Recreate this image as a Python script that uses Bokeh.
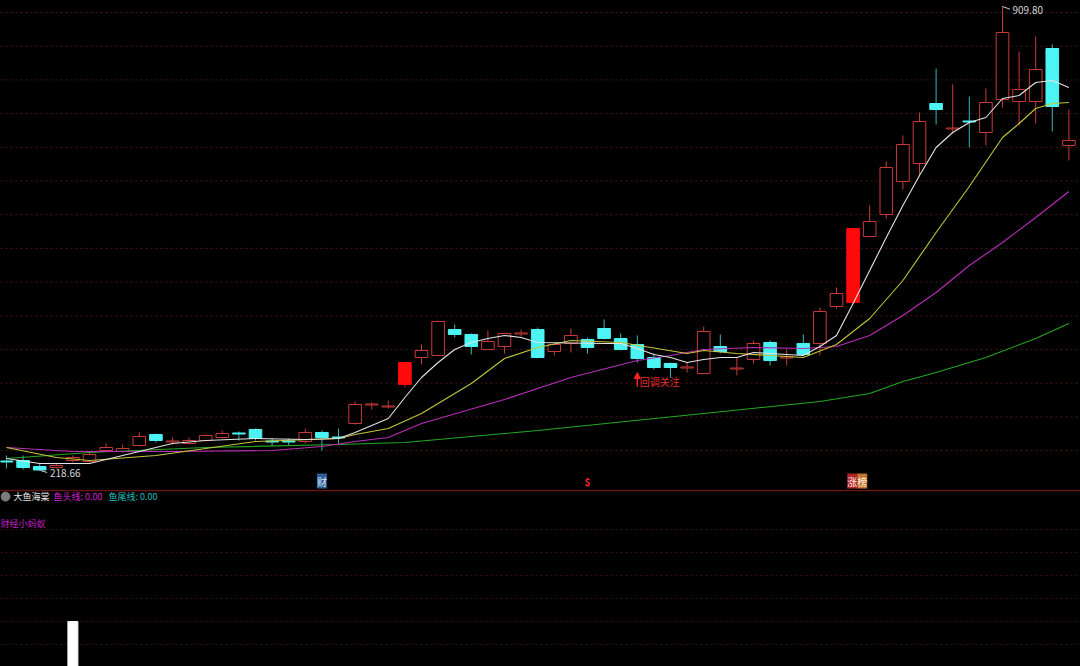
from bokeh.plotting import figure
from bokeh.models import Range1d, ColumnDataSource, Label, Arrow, NormalHead, Span
from bokeh.layouts import column
from bokeh.embed import file_html
from bokeh.resources import INLINE

# ---------------- data ----------------
opens = [232.83, 233.57, 224.63, 223.14, 233.57, 232.08, 248.46, 246.98, 255.91, 272.30,
         261.13, 258.89, 263.36, 267.83, 274.53, 279.74, 262.61, 262.61, 261.87, 275.28,
         268.57, 288.68, 316.24, 313.26, 346.77, 386.99, 389.97, 428.69, 421.25, 398.90,
         403.37, 421.99, 428.69, 395.93, 407.84, 413.80, 430.18, 415.29, 406.35, 386.99,
         378.05, 371.35, 363.16, 403.37, 369.86, 384.01, 409.33, 386.24, 407.84, 407.84,
         462.95, 468.91, 567.22, 599.99, 649.14, 675.95, 765.32, 727.34, 739.26, 722.13,
         771.28, 768.30, 768.30, 847.24, 702.76]
highs = [241.02, 241.02, 229.10, 229.10, 241.02, 245.49, 258.89, 257.40, 275.28, 273.79,
         267.83, 267.83, 272.30, 278.25, 276.77, 281.23, 266.34, 266.34, 281.23, 278.25,
         281.23, 321.45, 319.96, 322.94, 379.54, 406.35, 442.10, 436.14, 422.74, 427.21,
         422.74, 428.69, 431.67, 406.35, 430.18, 416.78, 443.59, 422.74, 419.76, 392.95,
         379.54, 379.54, 433.16, 421.25, 386.99, 412.31, 412.31, 398.90, 421.25, 461.46,
         491.25, 579.13, 613.39, 678.93, 717.66, 751.92, 817.45, 793.62, 775.75, 787.66,
         909.80, 842.78, 865.12, 853.20, 756.38]
lows = [221.65, 220.16, 218.66, 221.65, 230.59, 230.59, 246.98, 245.49, 254.42, 260.38,
        257.40, 257.40, 261.87, 266.34, 263.36, 263.36, 254.42, 255.91, 258.89, 248.46,
        258.89, 287.19, 309.53, 311.02, 342.30, 376.56, 389.97, 416.78, 391.46, 398.90,
        392.95, 418.27, 385.50, 389.97, 394.44, 392.95, 413.80, 397.41, 379.54, 369.11,
        357.20, 364.65, 363.16, 392.95, 360.18, 378.05, 375.07, 375.07, 389.97, 389.97,
        459.97, 465.93, 565.73, 594.03, 637.22, 658.08, 734.04, 720.64, 699.78, 702.76,
        759.36, 732.55, 735.53, 723.62, 680.42]
closes = [231.34, 223.14, 219.42, 226.12, 238.04, 242.51, 252.93, 251.44, 269.32, 263.36,
          262.61, 263.36, 270.81, 273.79, 273.04, 266.34, 261.13, 261.13, 275.28, 267.83,
          267.08, 316.98, 317.73, 314.75, 379.54, 397.41, 440.61, 421.25, 403.37, 410.82,
          422.74, 423.48, 386.99, 406.35, 419.76, 401.88, 415.29, 398.90, 385.50, 372.09,
          372.09, 372.84, 425.72, 395.93, 371.35, 407.84, 382.52, 387.73, 391.46, 455.51,
          482.32, 579.13, 589.56, 669.99, 704.25, 738.51, 756.38, 728.83, 737.77, 766.81,
          871.08, 786.17, 815.96, 760.85, 710.21]
solid_red_days = [24, 51]

ma5_idx = [0, 2, 5, 8, 10, 12, 15, 18, 20, 21, 22, 23, 24, 25, 26, 27, 28, 29, 30, 31, 32,
           36, 37, 38, 39, 40, 41, 42, 43, 44, 45, 46, 48, 49, 50, 51, 52, 53, 54, 55, 56,
           57, 58, 59, 60, 61, 62, 63, 64]
ma5_val = [236.55, 229.10, 229.10, 246.98, 258.89, 263.36, 266.34, 264.85, 266.34, 275.28,
           285.70, 296.13, 327.41, 357.20, 379.54, 398.90, 409.33, 415.29, 419.76, 416.78,
           409.33, 407.84, 407.84, 400.39, 391.46, 386.99, 379.54, 384.01, 386.99, 386.99,
           394.44, 392.95, 389.97, 403.37, 419.76, 467.42, 516.57, 565.73, 613.39, 658.08,
           699.78, 722.13, 737.02, 744.47, 772.77, 777.24, 796.60, 799.58, 789.15]

ma10_idx = [0, 3, 5, 9, 12, 15, 20, 21, 23, 25, 28, 30, 32, 34, 37, 41, 42, 44, 48, 50,
            52, 54, 56, 58, 60, 61, 62, 63, 64]
ma10_val = [252.93, 238.04, 233.57, 241.02, 251.44, 261.87, 266.34, 272.30, 281.23, 303.58,
            348.26, 385.50, 401.88, 412.31, 409.33, 392.95, 397.41, 392.95, 386.99, 406.35,
            445.08, 501.68, 573.18, 641.69, 714.68, 735.53, 757.87, 765.32, 766.81]

ma20_idx = [0, 4, 10, 16, 19, 21, 23, 25, 30, 34, 38, 40, 42, 45, 48, 50, 52, 54, 56, 58,
            60, 62, 64]
ma20_val = [252.93, 246.98, 246.98, 248.46, 254.42, 261.87, 267.83, 288.68, 324.43, 357.20,
            382.52, 389.97, 398.90, 401.88, 400.39, 403.37, 419.76, 449.55, 483.81, 524.02,
            558.28, 595.52, 634.25]

ma60_idx = [0, 5, 12, 20, 24, 32, 42, 49, 52, 54, 56, 59, 62, 64]
ma60_val = [236.55, 245.49, 252.93, 257.40, 260.38, 278.25, 303.58, 321.45, 333.37, 351.24,
            364.65, 386.99, 415.29, 437.63]

grid_levels = [900.87, 850.67, 800.47, 750.27, 700.07, 649.87, 599.67, 549.47, 499.27,
               449.07, 398.87, 348.67, 298.47, 248.27]

sub_title = "大鱼海棠"
sub_head = "鱼头线: 0.00"
sub_tail = "鱼尾线: 0.00"
sub_author = "财经小蚂蚁"
signal_days = [19, 35, 51]
pullback_day = 38
pullback_text = "回调关注"
sub_bar_idx = [4]
sub_bar_val = [25.4]
sub_grid_levels = [77.4, 64.4, 51.4, 38.4, 25.4, 12.4]

FONT = "Noto Sans CJK SC"
UP = "#c83a3a"
DOWN = "#4cf4f4"
DOWN_WICK = "#38b8b8"

# ---------------- main panel ----------------
n = len(opens)
idx = list(range(n))
tops = [max(o, c) for o, c in zip(opens, closes)]
bots = [min(o, c) for o, c in zip(opens, closes)]
kind = []
for i in idx:
    if i in solid_red_days:
        kind.append("solid")
    elif closes[i] >= opens[i]:
        kind.append("up")
    else:
        kind.append("down")


def sub(k):
    ids = [i for i in idx if kind[i] == k]
    return ColumnDataSource(dict(
        x=ids,
        top=[tops[i] for i in ids], bottom=[bots[i] for i in ids],
        high=[highs[i] for i in ids], low=[lows[i] for i in ids]))


p = figure(width=1080, height=489, x_range=Range1d(-0.3614, 64.699),
           y_range=Range1d(190.37, 918.74), output_backend="svg",
           toolbar_location=None, x_axis_location=None, y_axis_location=None,
           background_fill_color="#000000", border_fill_color="#000000",
           min_border=0, outline_line_color=None)
p.grid.visible = False

for lv in grid_levels:
    p.add_layout(Span(location=lv, dimension="width", line_color="#4a1818",
                      line_dash="2 3", line_width=1, level="underlay"))

src_up, src_down, src_solid = sub("up"), sub("down"), sub("solid")
p.segment(x0="x", y0="high", x1="x", y1="low", source=src_up, line_color=UP, line_width=1)
p.segment(x0="x", y0="high", x1="x", y1="low", source=src_solid, line_color="#ff1010", line_width=1)
p.segment(x0="x", y0="high", x1="x", y1="low", source=src_down, line_color=DOWN_WICK, line_width=1)
p.vbar(x="x", top="top", bottom="bottom", width=0.76, source=src_up,
       fill_color="#000000", line_color=UP, line_width=1)
p.vbar(x="x", top="top", bottom="bottom", width=0.76, source=src_solid,
       fill_color="#ff0a0a", line_color="#ff0a0a", line_width=1)
p.vbar(x="x", top="top", bottom="bottom", width=0.76, source=src_down,
       fill_color=DOWN, line_color=DOWN, line_width=1)

p.line(ma60_idx, ma60_val, line_color="#22a822", line_width=1.1)
p.line(ma20_idx, ma20_val, line_color="#b82eb8", line_width=1.1)
p.line(ma10_idx, ma10_val, line_color="#c4c43a", line_width=1.1)
p.line(ma5_idx, ma5_val, line_color="#e4e4e4", line_width=1.1)

# max / min annotations
hi_i = max(idx, key=lambda i: highs[i])
lo_i = min(idx, key=lambda i: lows[i])
p.segment(x0=[hi_i], y0=[highs[hi_i]], x1=[hi_i + 0.45], y1=[highs[hi_i] - 4.0],
          line_color="#cfcfcf", line_width=1)
p.add_layout(Label(x=hi_i + 0.6, y=highs[hi_i] - 4.5, text=f"{highs[hi_i]:.2f}",
                   text_color="#d6d6d6", text_font=FONT, text_font_size="10px",
                   text_baseline="middle"))
p.segment(x0=[lo_i + 0.05], y0=[lows[lo_i]], x1=[lo_i + 0.45], y1=[lows[lo_i] - 3.0],
          line_color="#cfcfcf", line_width=1)
p.add_layout(Label(x=lo_i + 0.62, y=lows[lo_i] - 3.0, text=f"{lows[lo_i]:.2f}",
                   text_color="#d6d6d6", text_font=FONT, text_font_size="10px",
                   text_baseline="middle"))

# pullback marker
p.add_layout(Arrow(end=NormalHead(size=6, fill_color="#ff2020", line_color="#ff2020"),
                   x_start=pullback_day, y_start=lows[pullback_day] - 36,
                   x_end=pullback_day, y_end=lows[pullback_day] - 15,
                   line_color="#ff2020", line_width=1.5))
p.add_layout(Label(x=pullback_day + 0.15, y=lows[pullback_day] - 28, text=pullback_text,
                   text_color="#e82a2a", text_font=FONT, text_font_size="10px",
                   text_baseline="middle"))

# bottom signal labels
yb = 203.0
p.add_layout(Label(x=signal_days[0], y=yb, text="财", text_color="#dce9ff",
                   background_fill_color="#2d5e96", text_font=FONT, text_font_size="10px",
                   text_align="center", text_baseline="middle"))
p.add_layout(Label(x=signal_days[1], y=yb, text="$", text_color="#ff2020",
                   text_font=FONT, text_font_size="10px", text_font_style="bold",
                   text_align="center", text_baseline="middle"))
p.add_layout(Label(x=signal_days[2] - 0.05, y=yb, text="涨", text_color="#ffe4e4",
                   background_fill_color="#b02525", text_font=FONT, text_font_size="10px",
                   text_align="center", text_baseline="middle"))
p.add_layout(Label(x=signal_days[2] + 0.55, y=yb, text="榜", text_color="#fff0dc",
                   background_fill_color="#c07433", text_font=FONT, text_font_size="10px",
                   text_align="center", text_baseline="middle"))

# ---------------- sub panel ----------------
p2 = figure(width=1080, height=177, x_range=p.x_range, y_range=Range1d(0, 100),
            output_backend="svg", toolbar_location=None,
            x_axis_location=None, y_axis_location=None,
            background_fill_color="#000000", border_fill_color="#000000",
            min_border=0, outline_line_color=None)
p2.grid.visible = False
for lv in sub_grid_levels:
    p2.add_layout(Span(location=lv, dimension="width", line_color="#3a1212",
                       line_dash="2 3", line_width=1, level="underlay"))
p2.add_layout(Span(location=99.4, dimension="width", line_color="#6a1414", line_width=1.5))

p2.vbar(x=sub_bar_idx, top=sub_bar_val, bottom=0, width=0.6,
        fill_color="#ffffff", line_color="#ffffff")

p2.scatter([-0.06], [96.0], size=9, marker="circle", fill_color="#7c7c7c",
           line_color="#7c7c7c")
p2.add_layout(Label(x=0.42, y=96.0, text=sub_title, text_color="#e6e6e6",
                    text_font=FONT, text_font_size="9px", text_baseline="middle"))
p2.add_layout(Label(x=2.83, y=96.0, text=sub_head, text_color="#d020d0",
                    text_font=FONT, text_font_size="9px", text_baseline="middle"))
p2.add_layout(Label(x=6.14, y=96.0, text=sub_tail, text_color="#20bcbc",
                    text_font=FONT, text_font_size="9px", text_baseline="middle"))
p2.add_layout(Label(x=-0.36, y=80.8, text=sub_author, text_color="#c020c0",
                    text_font=FONT, text_font_size="9px", text_baseline="middle"))

layout = column(p, p2, spacing=0, styles={"background-color": "#000000"})

TEMPLATE = """{% block postamble %}<style>html, body { background-color: #000000; }</style>{% endblock %}"""
open("out.html", "w").write(file_html(layout, INLINE, title="chart", template=TEMPLATE))
